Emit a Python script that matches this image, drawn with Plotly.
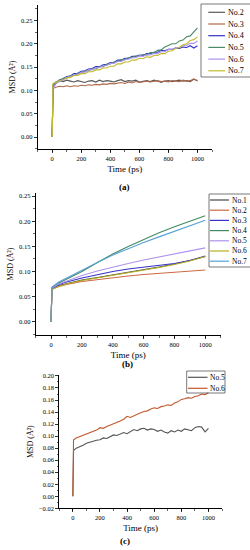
import plotly.graph_objects as go

# ---------------- data ----------------
T_A = [0, 5, 25, 50, 75, 100, 125, 150, 175, 200, 225, 250, 275, 300, 325, 350, 375, 400,
       425, 450, 475, 500, 525, 550, 575, 600, 625, 650, 675, 700, 725, 750, 775, 800,
       825, 850, 875, 900, 925, 950, 975, 1000]

A_NAMES = ["No.2", "No.3", "No.4", "No.5", "No.6", "No.7"]
A_COLORS = ["#5a5a5a", "#b06848", "#3434c8", "#4a8a66", "#ad92ee", "#c2bc2c"]
A_NO2 = [0, 0.112, 0.118, 0.121, 0.119, 0.122, 0.120, 0.118, 0.121, 0.119,
         0.117, 0.120, 0.121, 0.118, 0.122, 0.119, 0.121, 0.120, 0.118, 0.121,
         0.123, 0.119, 0.121, 0.120, 0.122, 0.118, 0.120, 0.121, 0.119, 0.122,
         0.120, 0.117, 0.120, 0.121, 0.119, 0.121, 0.122, 0.120, 0.121, 0.119,
         0.124, 0.121]
A_NO3 = [0, 0.104, 0.107, 0.109, 0.108, 0.110, 0.108, 0.110, 0.109, 0.111,
         0.110, 0.112, 0.111, 0.113, 0.112, 0.114, 0.113, 0.115, 0.114, 0.116,
         0.117, 0.115, 0.118, 0.116, 0.119, 0.117, 0.118, 0.120, 0.118, 0.119,
         0.121, 0.119, 0.120, 0.118, 0.121, 0.120, 0.119, 0.122, 0.120, 0.121,
         0.125, 0.120]
A_NO4 = [0, 0.105, 0.116, 0.123, 0.125, 0.130, 0.131, 0.136, 0.137, 0.141,
         0.142, 0.146, 0.147, 0.151, 0.151, 0.155, 0.156, 0.160, 0.160, 0.165,
         0.165, 0.169, 0.169, 0.173, 0.173, 0.176, 0.175, 0.179, 0.179, 0.182,
         0.182, 0.186, 0.185, 0.188, 0.188, 0.191, 0.190, 0.193, 0.192, 0.196,
         0.191, 0.196]
A_NO5 = [0, 0.108, 0.117, 0.119, 0.126, 0.126, 0.132, 0.132, 0.137, 0.138,
         0.142, 0.142, 0.147, 0.146, 0.151, 0.151, 0.156, 0.157, 0.161, 0.162,
         0.166, 0.166, 0.170, 0.171, 0.174, 0.174, 0.177, 0.176, 0.181, 0.181,
         0.186, 0.187, 0.193, 0.196, 0.200, 0.200, 0.206, 0.208, 0.215, 0.217,
         0.225, 0.234]
A_NO6 = [0, 0.104, 0.114, 0.120, 0.122, 0.128, 0.129, 0.133, 0.134, 0.139,
         0.139, 0.144, 0.144, 0.149, 0.149, 0.153, 0.153, 0.158, 0.158, 0.162,
         0.162, 0.166, 0.167, 0.170, 0.170, 0.174, 0.173, 0.176, 0.176, 0.179,
         0.179, 0.183, 0.183, 0.188, 0.188, 0.192, 0.192, 0.196, 0.197, 0.201,
         0.201, 0.206]
A_NO7 = [0, 0.115, 0.117, 0.122, 0.123, 0.127, 0.128, 0.132, 0.132, 0.136,
         0.136, 0.140, 0.140, 0.144, 0.144, 0.148, 0.148, 0.152, 0.152, 0.157,
         0.157, 0.161, 0.161, 0.165, 0.165, 0.169, 0.168, 0.172, 0.171, 0.175,
         0.175, 0.179, 0.179, 0.184, 0.185, 0.190, 0.192, 0.198, 0.200, 0.207,
         0.209, 0.215]
A_SERIES = [A_NO2, A_NO3, A_NO4, A_NO5, A_NO6, A_NO7]

T_B = [0, 5, 50, 100, 200, 300, 400, 500, 600, 700, 800, 900, 1000]
B_NAMES = ["No.1", "No.2", "No.3", "No.4", "No.5", "No.6", "No.7"]
B_COLORS = ["#4a4a4a", "#cc6a44", "#3434c8", "#3f8a62", "#ad92ee", "#b8b020", "#55a2d6"]
B_NO1 = [0, 0.066, 0.072, 0.076, 0.083, 0.088, 0.093, 0.098, 0.103, 0.109, 0.115, 0.122, 0.131]
B_NO2 = [0, 0.065, 0.070, 0.074, 0.080, 0.084, 0.088, 0.091, 0.094, 0.096, 0.099, 0.101, 0.103]
B_NO3 = [0, 0.066, 0.074, 0.079, 0.087, 0.094, 0.100, 0.105, 0.109, 0.112, 0.116, 0.122, 0.130]
B_NO4 = [0, 0.068, 0.077, 0.085, 0.100, 0.118, 0.135, 0.150, 0.164, 0.177, 0.189, 0.200, 0.211]
B_NO5 = [0, 0.067, 0.075, 0.081, 0.092, 0.101, 0.109, 0.116, 0.123, 0.129, 0.134, 0.140, 0.147]
B_NO6 = [0, 0.064, 0.070, 0.075, 0.082, 0.087, 0.092, 0.097, 0.102, 0.108, 0.114, 0.121, 0.130]
B_NO7 = [0, 0.069, 0.079, 0.087, 0.102, 0.118, 0.133, 0.146, 0.158, 0.169, 0.180, 0.191, 0.202]
B_SERIES = [B_NO1, B_NO2, B_NO3, B_NO4, B_NO5, B_NO6, B_NO7]

T_C = T_A
C_NAMES = ["No.5", "No.6"]
C_COLORS = ["#555555", "#c0582c"]
C_NO5 = [0, 0.076, 0.080, 0.082, 0.085, 0.088, 0.090, 0.091, 0.093, 0.094,
         0.097, 0.096, 0.099, 0.102, 0.101, 0.104, 0.106, 0.104, 0.108, 0.111,
         0.109, 0.112, 0.113, 0.110, 0.112, 0.111, 0.108, 0.110, 0.107, 0.105,
         0.109, 0.107, 0.110, 0.108, 0.112, 0.111, 0.109, 0.114, 0.116, 0.115,
         0.107, 0.113]
C_NO6 = [0, 0.094, 0.097, 0.099, 0.101, 0.103, 0.105, 0.108, 0.110, 0.114,
         0.113, 0.116, 0.118, 0.121, 0.122, 0.125, 0.128, 0.133, 0.131, 0.134,
         0.136, 0.139, 0.141, 0.142, 0.145, 0.147, 0.146, 0.149, 0.150, 0.152,
         0.151, 0.155, 0.157, 0.161, 0.162, 0.164, 0.163, 0.166, 0.167, 0.170,
         0.169, 0.172]
C_SERIES = [C_NO5, C_NO6]

X_TICKS = [0, 200, 400, 600, 800, 1000]
X_LABEL = "Time (ps)"
Y_LABEL = "MSD (Å²)"
PANEL_LABELS = ["(a)", "(b)", "(c)"]

# ---------------- layout helpers ----------------
W, H = 250, 550
FONT = "Liberation Serif"


def px(x):
    return x / W


def py(y):
    return 1 - y / H


fig = go.Figure()

panels = [
    (T_A, A_NAMES, A_COLORS, A_SERIES, "x", "y"),
    (T_B, B_NAMES, B_COLORS, B_SERIES, "x2", "y2"),
    (T_C, C_NAMES, C_COLORS, C_SERIES, "x3", "y3"),
]
for t, names, colors, series, xa, ya in panels:
    for name, col, ys in zip(names, colors, series):
        fig.add_trace(go.Scatter(x=t, y=ys, mode="lines", name=name,
                                 line=dict(color=col, width=1.1),
                                 xaxis=xa, yaxis=ya, showlegend=False,
                                 hoverinfo="skip"))

common = dict(showline=True, linecolor="black", linewidth=1, ticks="outside",
              ticklen=3, tickwidth=0.8, tickcolor="black", showgrid=False,
              zeroline=False, mirror=False, automargin=False,
              tickfont=dict(family=FONT, size=6.5, color="black"))

xcommon = dict(common, range=[-100, 1100], tickvals=X_TICKS,
               title=dict(text=X_LABEL, standoff=4,
                          font=dict(family=FONT, size=9, color="black")),
               minor=dict(ticks="outside", ticklen=1.5, tickcolor="black",
                          tickwidth=0.6, dtick=100))
ycommon = dict(common, tick0=0, tickformat=".2f",
               title=dict(text=Y_LABEL, standoff=4,
                          font=dict(family=FONT, size=8, color="black")))

fig.update_layout(
    width=W, height=H, margin=dict(l=0, r=0, t=0, b=0),
    paper_bgcolor="white", plot_bgcolor="white",
    xaxis=dict(xcommon, domain=[px(37.7), px(212)], anchor="y"),
    yaxis=dict(ycommon, domain=[py(149), py(5)], anchor="x",
               range=[-0.0257, 0.2833], dtick=0.05,
               minor=dict(ticks="outside", ticklen=1.5, tickcolor="black",
                          tickwidth=0.6, dtick=0.025)),
    xaxis2=dict(xcommon, domain=[px(35.7), px(220.7)], anchor="y2"),
    yaxis2=dict(ycommon, domain=[py(335), py(193)], anchor="x2",
                range=[-0.0265, 0.2564], dtick=0.05,
                minor=dict(ticks="outside", ticklen=1.5, tickcolor="black",
                           tickwidth=0.6, dtick=0.025)),
    xaxis3=dict(xcommon, domain=[px(59.3), px(222)], anchor="y3"),
    yaxis3=dict(ycommon, domain=[py(508.3), py(375)], anchor="x3",
                range=[-0.02, 0.2016], dtick=0.02,
                minor=dict(ticks="outside", ticklen=1.5, tickcolor="black",
                           tickwidth=0.6, dtick=0.01)),
)

annotations = []
shapes = []

# panel labels
pl = [(124, 187), (127, 364), (125, 541)]
for i in range(3):
    annotations.append(dict(text="<b>" + PANEL_LABELS[i] + "</b>",
                            x=px(pl[i][0]), y=py(pl[i][1]),
                            xref="paper", yref="paper", showarrow=False,
                            xanchor="center", yanchor="middle",
                            font=dict(family=FONT, size=9, color="black")))

# legend boxes (drawn from names / colors lists)
legends = [
    # box x0, x1, y0, y1, line x0, x1, first row y, row step, font
    (A_NAMES, A_COLORS, 201, 251, 4, 77, 208.3, 225, 12.3, 11.7, 8),
    (B_NAMES, B_COLORS, 209, 251, 194, 267, 210, 229, 200, 10.2, 7.5),
    (C_NAMES, C_COLORS, 186.7, 225, 371, 393, 188, 207.5, 377.3, 11, 7.5),
]
for names, colors, bx0, bx1, by0, by1, lx0, lx1, ry0, rstep, fs in legends:
    shapes.append(dict(type="rect", xref="paper", yref="paper",
                       x0=px(bx0), x1=px(bx1), y0=py(by1), y1=py(by0),
                       line=dict(color="#555555", width=0.8),
                       fillcolor="rgba(255,255,255,0)"))
    for k, (nm, col) in enumerate(zip(names, colors)):
        yy = ry0 + k * rstep
        shapes.append(dict(type="line", xref="paper", yref="paper",
                           x0=px(lx0), x1=px(lx1), y0=py(yy), y1=py(yy),
                           line=dict(color=col, width=1.2)))
        annotations.append(dict(text=nm, x=px(lx1 + 0.8), y=py(yy),
                                xref="paper", yref="paper", showarrow=False,
                                xanchor="left", yanchor="middle",
                                font=dict(family=FONT, size=fs, color="black")))

fig.update_layout(annotations=annotations, shapes=shapes)

fig.write_html("out.html",
               config={"displayModeBar": False, "staticPlot": True},
               post_script="document.body.style.margin='0px';"
                           "document.body.style.overflow='hidden';")
